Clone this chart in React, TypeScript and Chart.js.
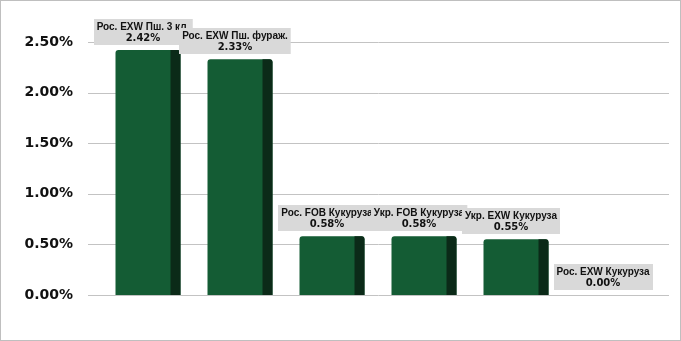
import React, { useEffect, useRef } from 'react';
import { Chart, registerables } from 'chart.js';

Chart.register(...registerables);

const categories = [
  'Рос. EXW Пш. 3 кл.',
  'Рос. EXW Пш. фураж.',
  'Рос. FOB Кукуруза',
  'Укр. FOB Кукуруза',
  'Укр. EXW Кукуруза',
  'Рос. EXW Кукуруза',
];
const values = [2.42, 2.33, 0.58, 0.58, 0.55, 0.0];
const yTicks = [0, 0.5, 1, 1.5, 2, 2.5];

const W = 681;
const H = 341;
const FRONT = '#145c34';
const SIDE = '#0b2a18';
const NAME_FONT = 'bold 10px "Liberation Sans", Arial, sans-serif';
const VALUE_FONT = 'bold 10px "DejaVu Sans", sans-serif';

const decorPlugin = {
  id: 'decor',
  beforeDraw(chart: any) {
    const ctx = chart.ctx;
    ctx.save();
    ctx.fillStyle = '#ffffff';
    ctx.fillRect(0, 0, W, H);
    ctx.strokeStyle = '#bfbfbf';
    ctx.lineWidth = 1;
    ctx.strokeRect(0.5, 0.5, W - 1, H - 1);
    ctx.restore();
  },
  beforeDatasetsDraw(chart: any) {
    const ctx = chart.ctx;
    const ys = chart.scales.y;
    const area = chart.chartArea;
    ctx.save();
    ctx.strokeStyle = '#c3c3c3';
    ctx.lineWidth = 1;
    yTicks.forEach((t) => {
      const y = Math.round(ys.getPixelForValue(t)) + 0.5;
      ctx.beginPath();
      ctx.moveTo(area.left - 14, y);
      ctx.lineTo(area.right + 15, y);
      ctx.stroke();
    });
    ctx.restore();
  },
  afterDatasetsDraw(chart: any) {
    const ctx = chart.ctx;
    const meta = chart.getDatasetMeta(0);
    ctx.save();
    meta.data.forEach((el: any) => {
      const right = el.x + el.width / 2;
      const left = right - 10;
      const top = el.y;
      const bottom = el.base;
      if (bottom - top < 1) return;
      const r = 3;
      ctx.fillStyle = SIDE;
      ctx.beginPath();
      ctx.moveTo(left, top);
      ctx.lineTo(right - r, top);
      ctx.quadraticCurveTo(right, top, right, top + r);
      ctx.lineTo(right, bottom);
      ctx.lineTo(left, bottom);
      ctx.closePath();
      ctx.fill();
    });
    ctx.textAlign = 'center';
    ctx.textBaseline = 'middle';
    meta.data.forEach((el: any, i: number) => {
      const l1 = categories[i];
      const l2 = values[i].toFixed(2) + '%';
      ctx.font = NAME_FONT;
      const w1 = ctx.measureText(l1).width;
      ctx.font = VALUE_FONT;
      const w2 = ctx.measureText(l2).width;
      const w = Math.max(w1, w2) + 6;
      const h = 26;
      const cx = el.x - 5;
      const bx = Math.round(cx - w / 2);
      const by = Math.round(el.y - 5 - h);
      ctx.fillStyle = '#d9d9d9';
      ctx.fillRect(bx, by, w, h);
      ctx.fillStyle = '#111111';
      ctx.font = NAME_FONT;
      ctx.fillText(l1, cx, by + 8);
      ctx.font = VALUE_FONT;
      ctx.fillText(l2, cx, by + 19.5);
    });
    ctx.restore();
  },
};

export default function App() {
  const ref = useRef<HTMLCanvasElement>(null);

  useEffect(() => {
    if (!ref.current) return;
    const chart = new Chart(ref.current, {
      type: 'bar',
      data: {
        labels: categories,
        datasets: [
          {
            data: values,
            backgroundColor: FRONT,
            borderRadius: { topLeft: 3, topRight: 3, bottomLeft: 0, bottomRight: 0 },
            borderSkipped: false,
            barPercentage: 65 / 92,
            categoryPercentage: 1,
          },
        ],
      },
      options: {
        responsive: false,
        animation: false,
        layout: { padding: { left: 0, right: 27, top: 42, bottom: 46 } },
        plugins: {
          legend: { display: false },
          tooltip: { enabled: false },
          title: { display: false },
        },
        scales: {
          x: { display: false },
          y: {
            min: 0,
            max: 2.5,
            afterFit(scale: any) {
              scale.width = 102;
            },
            afterBuildTicks(scale: any) {
              scale.ticks = yTicks.map((v) => ({ value: v }));
            },
            grid: { display: false, drawTicks: false },
            border: { display: false },
            ticks: {
              padding: 29,
              color: '#111111',
              font: { family: '"DejaVu Sans", sans-serif', weight: 'bold', size: 14 },
              callback: (v: any) => Number(v).toFixed(2) + '%',
            },
          },
        },
      },
      plugins: [decorPlugin],
    });
    return () => chart.destroy();
  }, []);

  return (
    <div style={{ position: 'absolute', left: 0, top: 0, width: W, height: H }}>
      <canvas ref={ref} width={W} height={H} style={{ display: 'block', width: W, height: H }} />
    </div>
  );
}
